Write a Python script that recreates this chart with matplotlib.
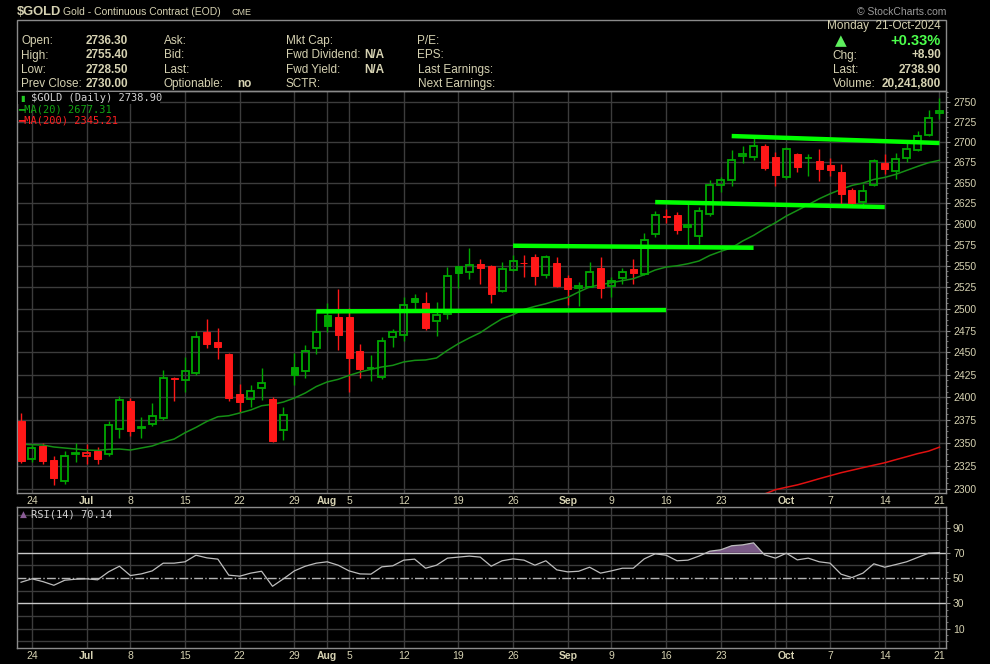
import numpy as np
import pandas as pd
import matplotlib
matplotlib.use("Agg")
import matplotlib.pyplot as plt
from matplotlib.patches import Rectangle
from matplotlib.ticker import FixedLocator, NullFormatter, FuncFormatter

# trading days on the chart (Jul 4 and Labor Day have no bar)
dates = pd.bdate_range("2024-06-21", "2024-10-21").drop(pd.to_datetime(["2024-07-04", "2024-09-02"]))

opens = [2374.0, 2332.4, 2346.5, 2331.4, 2308.9, 2338.2, 2335.7, 2340.6, 2337.8, 2365.0,
         2396.0, 2366.2, 2370.0, 2377.0, 2421.0, 2419.1, 2426.9, 2473.6, 2462.3, 2448.6,
         2403.8, 2397.9, 2410.2, 2398.2, 2363.4, 2433.7, 2428.7, 2454.7, 2493.1, 2490.8,
         2490.8, 2452.0, 2432.0, 2422.4, 2467.2, 2469.4, 2512.4, 2507.0, 2485.9, 2493.9,
         2549.8, 2542.8, 2552.5, 2550.1, 2520.6, 2544.6, 2553.6, 2560.8, 2538.8, 2553.7,
         2536.1, 2523.6, 2525.2, 2547.8, 2525.9, 2535.3, 2546.6, 2540.0, 2587.3, 2609.7,
         2610.9, 2596.2, 2585.4, 2611.8, 2647.0, 2652.6, 2682.7, 2681.4, 2695.1, 2681.8,
         2656.3, 2685.5, 2679.8, 2676.9, 2671.6, 2662.9, 2641.2, 2625.7, 2647.1, 2674.4,
         2664.2, 2679.7, 2690.2, 2708.3, 2736.3]
highs = [2382.8, 2347.9, 2350.0, 2335.7, 2341.1, 2350.0, 2348.9, 2345.4, 2373.7, 2401.6,
         2399.3, 2378.4, 2393.8, 2430.6, 2422.4, 2444.9, 2474.8, 2488.5, 2478.2, 2449.0,
         2415.0, 2413.8, 2432.9, 2400.4, 2389.1, 2449.8, 2458.5, 2496.6, 2507.0, 2523.3,
         2500.8, 2460.0, 2447.5, 2467.9, 2477.1, 2513.6, 2517.4, 2519.8, 2507.8, 2548.9,
         2550.2, 2571.4, 2558.4, 2551.3, 2554.9, 2563.2, 2562.3, 2564.3, 2563.2, 2560.4,
         2539.6, 2531.4, 2554.9, 2560.8, 2537.3, 2547.4, 2558.4, 2589.0, 2615.4, 2618.2,
         2614.5, 2627.4, 2620.6, 2652.6, 2656.8, 2690.1, 2695.1, 2708.3, 2697.9, 2687.6,
         2693.9, 2686.7, 2685.5, 2691.5, 2680.2, 2673.2, 2643.7, 2648.5, 2679.4, 2685.1,
         2686.7, 2702.9, 2714.2, 2739.8, 2755.4]
lows = [2328.4, 2329.5, 2327.0, 2304.2, 2305.7, 2328.8, 2327.4, 2326.6, 2335.7, 2355.1,
        2357.3, 2354.7, 2368.6, 2375.1, 2395.3, 2405.2, 2424.2, 2454.7, 2442.2, 2395.3,
        2383.6, 2389.1, 2396.8, 2350.8, 2353.3, 2413.8, 2420.9, 2448.3, 2473.3, 2452.4,
        2406.0, 2420.9, 2417.5, 2420.2, 2455.8, 2462.6, 2498.1, 2475.1, 2468.3, 2487.7,
        2524.1, 2534.1, 2528.3, 2506.2, 2519.4, 2543.9, 2537.3, 2527.1, 2536.1, 2525.2,
        2503.8, 2502.7, 2524.8, 2512.8, 2513.2, 2528.3, 2528.3, 2539.6, 2584.6, 2601.3,
        2587.3, 2573.0, 2575.4, 2608.9, 2638.4, 2645.9, 2673.5, 2677.2, 2664.9, 2645.9,
        2653.8, 2662.9, 2657.5, 2651.4, 2658.0, 2623.0, 2622.1, 2619.0, 2645.7, 2660.6,
        2653.8, 2675.2, 2688.6, 2707.0, 2728.5]
closes = [2329.9, 2344.3, 2329.9, 2311.6, 2335.7, 2338.8, 2338.4, 2332.0, 2369.3, 2396.8,
          2362.3, 2366.9, 2379.5, 2421.3, 2420.5, 2429.2, 2467.6, 2459.2, 2455.8, 2398.6,
          2394.2, 2406.8, 2415.7, 2352.2, 2380.3, 2424.2, 2451.7, 2473.3, 2479.7, 2469.4,
          2443.4, 2431.0, 2432.6, 2463.1, 2473.3, 2504.3, 2507.3, 2478.2, 2492.8, 2538.1,
          2541.1, 2550.5, 2547.0, 2516.6, 2546.3, 2555.7, 2553.1, 2537.6, 2560.4, 2526.8,
          2522.4, 2526.4, 2542.8, 2523.6, 2532.2, 2542.8, 2541.9, 2580.6, 2610.6, 2607.7,
          2592.1, 2598.9, 2615.4, 2647.0, 2653.4, 2677.7, 2685.5, 2695.1, 2668.2, 2658.7,
          2691.1, 2669.5, 2680.3, 2667.0, 2665.4, 2635.5, 2625.4, 2639.6, 2676.9, 2666.1,
          2679.0, 2691.1, 2707.5, 2730.0, 2738.9]

ma20 = [2348.4, 2347.9, 2347.5, 2345.4, 2344.3, 2343.2, 2342.1, 2341.7, 2342.8, 2343.2,
        2342.1, 2344.3, 2346.5, 2350.8, 2354.0, 2360.9, 2366.7, 2373.3, 2378.4, 2379.5,
        2382.5, 2385.8, 2390.5, 2392.0, 2394.6, 2399.0, 2404.6, 2411.8, 2416.9, 2419.8,
        2424.2, 2428.0, 2431.0, 2433.7, 2435.5, 2439.3, 2441.1, 2441.6, 2443.8, 2452.4,
        2460.0, 2466.5, 2472.5, 2480.8, 2488.5, 2493.1, 2499.2, 2502.7, 2505.8, 2509.7,
        2513.1, 2519.4, 2525.2, 2527.9, 2530.3, 2532.6, 2534.9, 2539.6, 2545.1, 2548.6,
        2550.1, 2552.5, 2555.7, 2562.3, 2567.1, 2571.4, 2579.4, 2586.1, 2594.1, 2601.3,
        2609.4, 2616.1, 2623.0, 2630.2, 2636.3, 2641.6, 2646.5, 2649.4, 2653.8, 2656.3,
        2660.0, 2664.9, 2669.8, 2674.4, 2677.31]
# MA(200) only comes into view at the bottom right
ma200 = [np.nan] * 68 + [2295.0, 2299.6, 2302.2, 2304.7, 2307.9, 2311.3, 2314.5, 2317.7,
                         2320.4, 2323.1, 2325.8, 2328.4, 2331.7, 2334.9, 2338.2, 2340.9, 2345.21]

rsi14 = [46.7, 49.4, 47.2, 44.3, 48.3, 49.1, 49.4, 48.6, 54.9, 59.4,
         52.0, 53.3, 55.7, 61.8, 61.8, 62.9, 68.1, 66.0, 65.0, 52.3,
         51.5, 53.9, 55.4, 43.5, 49.4, 55.7, 59.4, 61.8, 62.9, 60.2,
         55.7, 53.3, 53.1, 58.9, 59.7, 64.2, 65.0, 57.8, 60.2, 65.8,
         66.6, 67.4, 66.6, 59.4, 63.7, 65.2, 64.2, 60.2, 63.7, 56.5,
         54.9, 55.4, 58.6, 53.9, 55.7, 57.8, 57.8, 65.2, 69.2, 68.1,
         63.7, 64.2, 67.4, 71.3, 72.4, 75.6, 76.3, 77.9, 68.4, 65.8,
         69.7, 64.4, 65.8, 62.9, 61.8, 53.1, 50.4, 53.9, 61.3, 58.6,
         60.7, 62.9, 66.3, 69.7, 70.14]

# hand-drawn trend lines: (start day, start price, end day, end price)
trend_lines = [("2024-07-31", 2496.9, "2024-09-16", 2498.5),
               ("2024-08-26", 2573.8, "2024-09-26", 2571.4),
               ("2024-09-13", 2626.2, "2024-10-14", 2620.2),
               ("2024-09-24", 2707.5, "2024-10-21", 2698.8)]

tick_days = ["2024-06-24", "2024-07-01", "2024-07-08", "2024-07-15", "2024-07-22",
             "2024-07-29", "2024-08-01", "2024-08-05", "2024-08-12", "2024-08-19",
             "2024-08-26", "2024-09-03", "2024-09-09", "2024-09-16", "2024-09-23",
             "2024-10-01", "2024-10-07", "2024-10-14", "2024-10-21"]
tick_labels = ["24", "Jul", "8", "15", "22", "29", "Aug", "5", "12", "19", "26",
               "Sep", "9", "16", "23", "Oct", "7", "14", "21"]
grid_days = tick_days + ["2024-09-30"]

header_left = [("Open:", "2736.30"), ("High:", "2755.40"), ("Low:", "2728.50"), ("Prev Close:", "2730.00")]
header_col2 = ["Ask:", "Bid:", "Last:", "Optionable:"]
header_col3 = ["Mkt Cap:", "Fwd Dividend:", "Fwd Yield:", "SCTR:"]
header_col4 = ["P/E:", "EPS:", "Last Earnings:", "Next Earnings:"]

# ---- style ----
W, H = 990, 664
BG = "black"
TXT = "#d6d2b2"
GRID = "#3c3c3c"
SPINE = "#8c8c8c"
UP = "#00a800"
DOWN = "#ff1818"
SANS = ["Liberation Sans", "DejaVu Sans"]
MONO = ["DejaVu Sans Mono"]
HS = 8.5  # header font size


def fx(px):
    return px / W


def fy(py):
    return 1 - py / H


def day_idx(d):
    return dates.get_loc(pd.Timestamp(d))


def label(px, py, s, **kw):
    kw.setdefault("fontsize", HS)
    kw.setdefault("color", TXT)
    kw.setdefault("family", SANS)
    kw.setdefault("va", "center")
    fig.text(fx(px), fy(py), s, parse_math=False, **kw)


x = np.arange(len(dates))
o, h, l, c = map(np.array, (opens, highs, lows, closes))

fig = plt.figure(figsize=(W / 100, H / 100), dpi=100, facecolor=BG)
ax = fig.add_axes([fx(17), fy(493), fx(946) - fx(17), (493 - 91) / H], facecolor=BG)
rx = fig.add_axes([fx(17), fy(648), fx(946) - fx(17), (648 - 507) / H], facecolor=BG)

tick_x = [day_idx(d) for d in tick_days]
grid_x = [day_idx(d) for d in grid_days]

for a in (ax, rx):
    for s in a.spines.values():
        s.set_color(SPINE)
        s.set_linewidth(1)
    for gx in grid_x:
        a.axvline(gx, color=GRID, lw=1, zorder=0)
    a.set_xlim(-0.37, 84.6)
    a.set_xticks(tick_x)
    a.set_xticklabels(tick_labels, fontfamily=SANS)
    a.tick_params(axis="x", length=0, pad=2, labelsize=7.5, labelcolor=TXT)
    for t in a.get_xticklabels():
        if t.get_text().isalpha():
            t.set_fontweight("bold")
    a.yaxis.tick_right()
    a.tick_params(axis="y", which="major", length=3, color=SPINE, labelcolor=TXT,
                  labelsize=7.5, pad=2)
    a.tick_params(axis="y", which="minor", length=1.5, color=SPINE)

# ---- price panel ----
ax.set_yscale("log")
ax.set_ylim(2296.1, 2764.4)
ax.yaxis.set_major_locator(FixedLocator(np.arange(2300, 2751, 25)))
ax.yaxis.set_major_formatter(FuncFormatter(lambda v, _: f"{v:.0f}"))
ax.yaxis.set_minor_locator(FixedLocator(np.arange(2293.75, 2765, 6.25)))
ax.yaxis.set_minor_formatter(NullFormatter())
ax.grid(axis="y", which="major", color=GRID, lw=1, zorder=0)
for t in ax.get_yticklabels():
    t.set_fontfamily(SANS)

prev = np.r_[o[0], c[:-1]]
colors = np.where(c >= prev, UP, DOWN)
top = np.maximum(o, c)
bot = np.minimum(o, c)
ax.vlines(x, top, h, colors=colors, lw=1, zorder=2)
ax.vlines(x, l, bot, colors=colors, lw=1, zorder=2)
for i in x:
    hollow = c[i] > o[i]
    ax.bar(x[i], max(top[i] - bot[i], 0.4), bottom=bot[i], width=0.64,
           facecolor="none" if hollow else colors[i], edgecolor=colors[i],
           lw=1.3 if hollow else 0.7, zorder=3)

ax.plot(x, ma20, color="#158f15", lw=1.1, zorder=2)
ax.plot(x, ma200, color="#e01010", lw=1.1, zorder=2)

for d0, p0, d1, p1 in trend_lines:
    ax.plot([day_idx(d0), day_idx(d1)], [p0, p1], color="#00ff00", lw=3.2,
            solid_capstyle="butt", zorder=4)

# legend block, top-left of the price panel
fig.add_artist(Rectangle((fx(17.5), fy(104)), fx(160) - fx(17.5), 12 / H,
                         transform=fig.transFigure, fc=BG, ec="none", zorder=5))
label(20, 98, "▮", fontsize=6, color="#22cc22", family=["DejaVu Sans"], zorder=6)
label(31, 98, "$GOLD (Daily) 2738.90", fontsize=7.5, family=MONO, color="#d0d0d0", zorder=6)
label(18, 109.5, "━MA(20) 2677.31", fontsize=7.5, family=MONO, color="#13a613", zorder=6)
label(18, 120.5, "━MA(200) 2345.21", fontsize=7.5, family=MONO, color="#ff2020", zorder=6)

# ---- RSI panel ----
rsi = np.array(rsi14)
rx.set_ylim(-5.4, 106.3)
rx.yaxis.set_major_locator(FixedLocator([10, 30, 50, 70, 90]))
rx.yaxis.set_minor_locator(FixedLocator(np.arange(0, 101, 5)))
for t in rx.get_yticklabels():
    t.set_fontfamily(SANS)
for g in range(0, 101, 10):
    if g not in (30, 50, 70):
        rx.axhline(g, color=GRID, lw=1, zorder=0)
rx.axhline(70, color="#c8c8c8", lw=1, zorder=1)
rx.axhline(30, color="#c8c8c8", lw=1, zorder=1)
rx.axhline(50, color="#b4b4b4", lw=1, ls="-.", zorder=1)
rx.fill_between(x, rsi, 70, where=rsi > 70, interpolate=True, color="#7a5a86", lw=0, zorder=2)
rx.plot(x, rsi, color="#bdbdbd", lw=0.9, zorder=3)
label(23.5, 514.5, "▲", fontsize=6.5, color="#8a5c96", family=["DejaVu Sans"], ha="center")
label(31, 514.5, "RSI(14) 70.14", fontsize=7.5, family=MONO, color="#d0d0d0")

# ---- header ----
label(17, 12, "$GOLD", fontsize=9.3, fontweight="bold")
label(63, 12, "Gold - Continuous Contract (EOD)", fontsize=7.5)
label(232, 12.5, "CME", fontsize=6.5)
label(946, 12, "© StockCharts.com", fontsize=7.5, color="#9a9a9a", ha="right")
fig.add_artist(Rectangle((fx(17), fy(91)), fx(946) - fx(17), (91 - 19.5) / H,
                         transform=fig.transFigure, fill=False, ec="#8a8a8a", lw=1))

rows = [41, 55.5, 69.7, 84.2]
for ry, (lab, val) in zip(rows, header_left):
    label(21, ry, lab)
    label(86, ry, val, fontweight="bold")
for ry, lab in zip(rows, header_col2):
    label(164, ry, lab)
label(237.5, rows[3], "no", fontweight="bold")
for ry, lab in zip(rows, header_col3):
    label(285.5, ry, lab)
for ry in rows[1:3]:
    label(364.5, ry, "N/A", fontweight="bold")
for ry, lab in zip(rows, header_col4):
    label(417.5, ry, lab)

label(941, 26, "Monday  21-Oct-2024", ha="right")
label(840.5, 41, "▲", fontsize=11, color="#5ef05e", family=["DejaVu Sans"], ha="center")
label(941, 41, "+0.33%", fontsize=10.5, color="#4cff4c", ha="right", fontweight="bold")
for ry, lab, val in [(rows[1], "Chg:", "+8.90"), (rows[2], "Last:", "2738.90"),
                     (rows[3], "Volume:", "20,241,800")]:
    label(832.5, ry, lab)
    label(941, ry, val, ha="right", fontweight="bold")

fig.savefig("out.png", dpi=100, facecolor=BG)
